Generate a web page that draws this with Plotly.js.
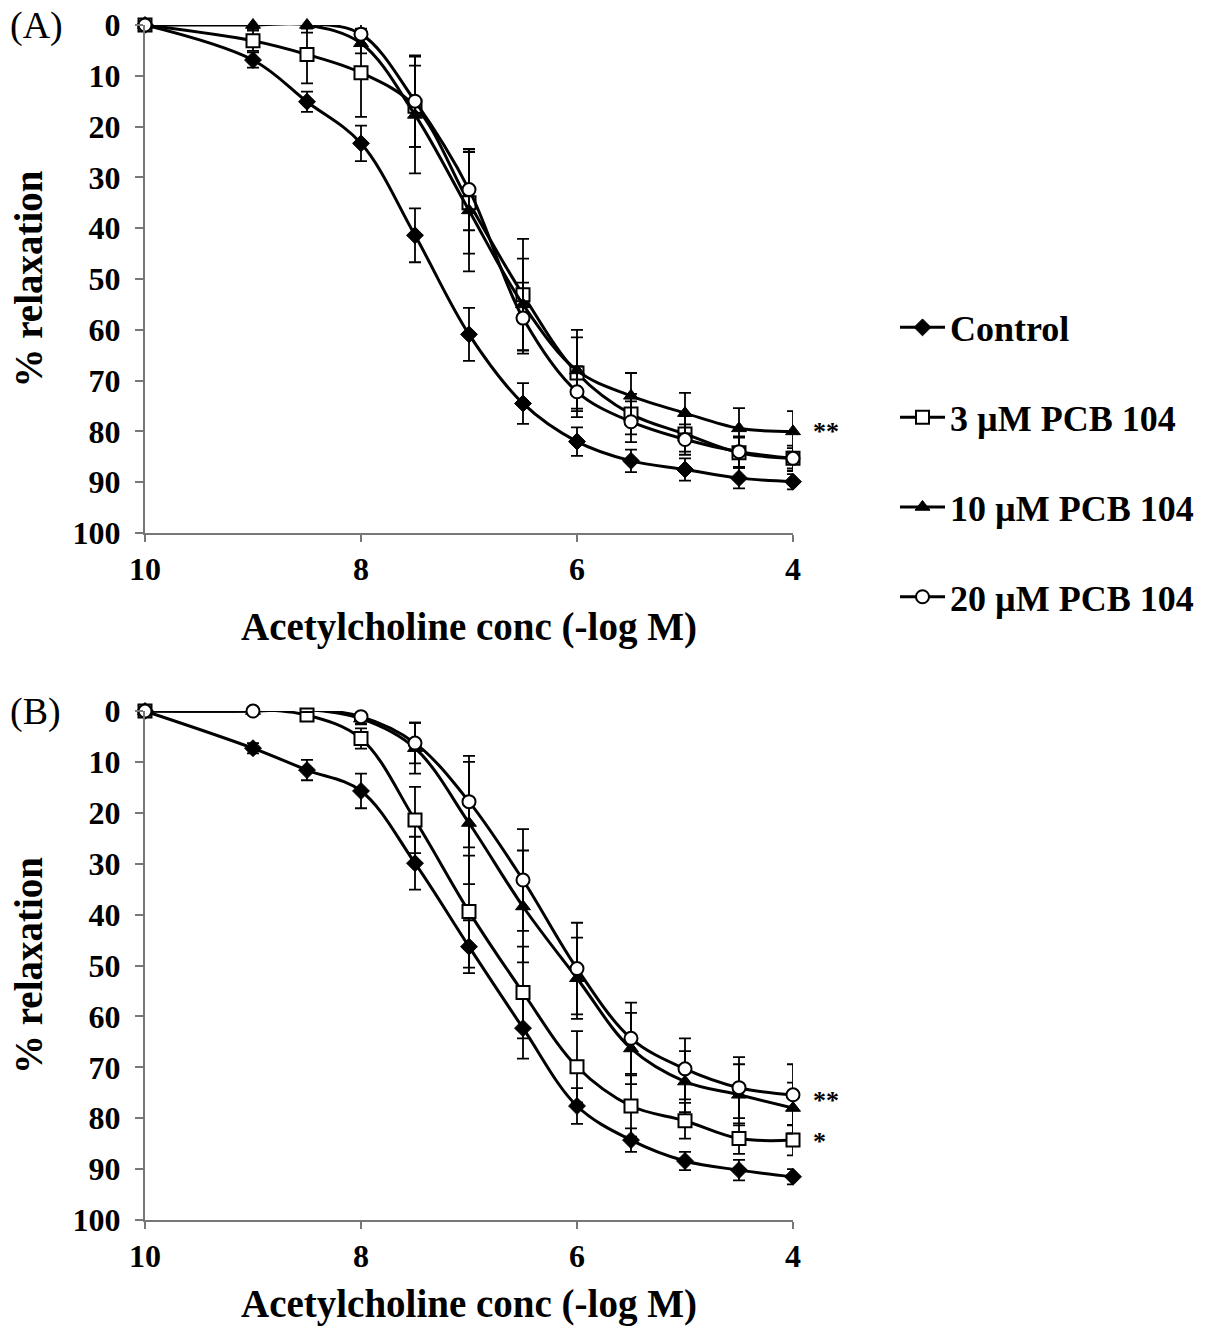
<!DOCTYPE html>
<html>
<head>
<meta charset="utf-8">
<script src="https://cdn.plot.ly/plotly-3.0.1.min.js"></script>
<style>body{margin:0;background:#fff}#chart{width:1215px;height:1328px}</style>
</head>
<body>
<div id="chart"></div>
<script>
// Acetylcholine concentration (-log M)
const conc = [10, 9, 8.5, 8, 7.5, 7, 6.5, 6, 5.5, 5, 4.5, 4];
const xTicks = [10, 8, 6, 4];
const yTicks = [0, 10, 20, 30, 40, 50, 60, 70, 80, 90, 100];
const seriesNames = ["Control", "3 µM PCB 104", "10 µM PCB 104", "20 µM PCB 104"];

// Panel A
const controlA = [0, 6.9, 15.1, 23.3, 41.4, 60.9, 74.5, 82, 85.8, 87.5, 89.2, 89.9];
const controlAErr = [0, 1.5, 2, 3.5, 5.3, 5.2, 4, 2.8, 2.2, 2.2, 2, 1.5];
const pcb3A = [0, 3.1, 5.8, 9.4, 16, 35, 53.1, 68.5, 76.6, 80.5, 84.2, 85.3];
const pcb3AErr = [0, 2, 5.7, 8.7, 8, 10, 11, 7, 4, 3.5, 3, 2.5];
const pcb10A = [0, 0, 0, 3.6, 17.7, 36.5, 55, 68, 73, 76.4, 79.4, 80];
const pcb10AErr = [0, 1, 1.5, 2, 11.5, 12, 9, 8, 4.5, 4, 4, 4];
const pcb20A = [0, -0.3, -0.3, 1.8, 15, 32.4, 57.7, 72.2, 78.1, 81.6, 84, 85.3];
const pcb20AErr = [0, 1, 1, 2, 9, 8, 7, 5, 4, 3, 3, 2];

// Panel B
const controlB = [0, 7.3, 11.6, 15.7, 29.9, 46.3, 62.3, 77.6, 84.3, 88.4, 90.2, 91.5];
const controlBErr = [0, 1, 2, 3.4, 5.2, 5.2, 6, 3.5, 2.3, 1.8, 2, 1.5];
const pcb3B = [0, -0.3, 0.8, 5.4, 21.4, 39.4, 55.3, 69.9, 77.6, 80.5, 84, 84.3];
const pcb3BErr = [0, 0.5, 1, 2, 6.5, 11, 9, 7, 6, 3.5, 3, 3];
const pcb10B = [0, 0, -0.3, 1.5, 7.3, 22, 38.4, 52.5, 66.3, 72.8, 75.4, 78];
const pcb10BErr = [0, 0.5, 0.5, 1, 5, 12, 11, 8, 7, 6, 6, 5];
const pcb20B = [0, 0, -0.3, 1.1, 6.3, 17.8, 33.2, 50.6, 64.3, 70.3, 74, 75.4];
const pcb20BErr = [0, 0.5, 0.5, 1.5, 4, 9, 10, 9, 7, 6, 6, 6];

const markerStyles = [
  {symbol: "diamond", size: 13, color: "#000", line: {color: "#000", width: 1}},
  {symbol: "square", size: 13, color: "#fff", line: {color: "#000", width: 2}},
  {symbol: "triangle-up", size: 13, color: "#000", line: {color: "#000", width: 1}},
  {symbol: "circle", size: 13, color: "#fff", line: {color: "#000", width: 2}}
];

function makeTrace(i, y, err, xa, ya, showlegend) {
  return {
    x: conc, y: y, xaxis: xa, yaxis: ya,
    type: "scatter", mode: "lines+markers",
    name: seriesNames[i], legendgroup: "g" + i, showlegend: showlegend,
    line: {color: "#000", width: 3, shape: "spline", smoothing: 1},
    marker: markerStyles[i],
    error_y: {type: "data", array: err, visible: true, color: "#000", thickness: 1.8, width: 6},
    cliponaxis: false
  };
}

const dataA = [controlA, pcb3A, pcb10A, pcb20A];
const errA = [controlAErr, pcb3AErr, pcb10AErr, pcb20AErr];
const dataB = [controlB, pcb3B, pcb10B, pcb20B];
const errB = [controlBErr, pcb3BErr, pcb10BErr, pcb20BErr];

const traces = [];
for (let i = 0; i < 4; i++) traces.push(makeTrace(i, dataA[i], errA[i], "x", "y", true));
for (let i = 0; i < 4; i++) traces.push(makeTrace(i, dataB[i], errB[i], "x2", "y2", false));

const fam = "Liberation Serif, Times New Roman, serif";
const tickFont = {family: fam, size: 32, color: "#000", weight: "bold"};
const titleFont = {family: fam, size: 39, color: "#000", weight: "bold"};

function xAxis(anchor, standoff) {
  return {
    anchor: anchor, domain: [0, 1], range: [10, 4], autorange: false,
    tickvals: xTicks, ticktext: xTicks.map(String),
    ticks: "outside", ticklen: 7, tickwidth: 2, tickcolor: "#777",
    showline: true, linecolor: "#777", linewidth: 2,
    showgrid: false, zeroline: false, tickfont: tickFont,
    title: {text: "<b>Acetylcholine conc (-log M)</b>", font: titleFont, standoff: standoff}
  };
}
function yAxis(anchor, domain) {
  return {
    anchor: anchor, domain: domain, range: [100, 0], autorange: false,
    tickvals: yTicks, ticktext: yTicks.map(String),
    ticks: "outside", ticklen: 8, tickwidth: 2, tickcolor: "#777",
    showline: true, linecolor: "#777", linewidth: 2,
    showgrid: false, zeroline: false, tickfont: tickFont, ticklabelstandoff: 8,
    title: {text: "<b>% relaxation</b>", font: titleFont, standoff: 18}
  };
}

const layout = {
  width: 1215, height: 1328,
  margin: {l: 145, r: 422, t: 25, b: 108},
  paper_bgcolor: "#fff", plot_bgcolor: "#fff",
  font: {family: fam, color: "#000"},
  showlegend: true,
  legend: {
    x: (895 - 145) / (1215 - 145 - 422), xref: "paper", y: 0.772, yanchor: "top",
    font: {family: fam, size: 36, color: "#000", weight: "bold"},
    tracegroupgap: 40, itemwidth: 45, bgcolor: "rgba(0,0,0,0)"
  },
  xaxis: xAxis("y", 26),
  yaxis: yAxis("x", [0.5749, 1]),
  xaxis2: xAxis("y2", 16),
  yaxis2: yAxis("x2", [0, 0.4259]),
  annotations: [
    {text: "(A)", xref: "paper", yref: "paper", x: -0.211, y: 1.0, xanchor: "left", yanchor: "middle", showarrow: false, font: {family: fam, size: 38, color: "#000"}},
    {text: "(B)", xref: "paper", yref: "paper", x: -0.211, y: 0.4259, xanchor: "left", yanchor: "middle", showarrow: false, font: {family: fam, size: 38, color: "#000"}},
    {text: "**", xref: "x", yref: "y", x: 4, y: 80, xshift: 18, xanchor: "left", yanchor: "middle", showarrow: false, font: {family: fam, size: 26, color: "#000", weight: "bold"}},
    {text: "**", xref: "x2", yref: "y2", x: 4, y: 76.5, xshift: 18, xanchor: "left", yanchor: "middle", showarrow: false, font: {family: fam, size: 26, color: "#000", weight: "bold"}},
    {text: "*", xref: "x2", yref: "y2", x: 4, y: 84.5, xshift: 18, xanchor: "left", yanchor: "middle", showarrow: false, font: {family: fam, size: 26, color: "#000", weight: "bold"}}
  ]
};

Plotly.newPlot("chart", traces, layout, {displayModeBar: false, staticPlot: true});
</script>
</body>
</html>
